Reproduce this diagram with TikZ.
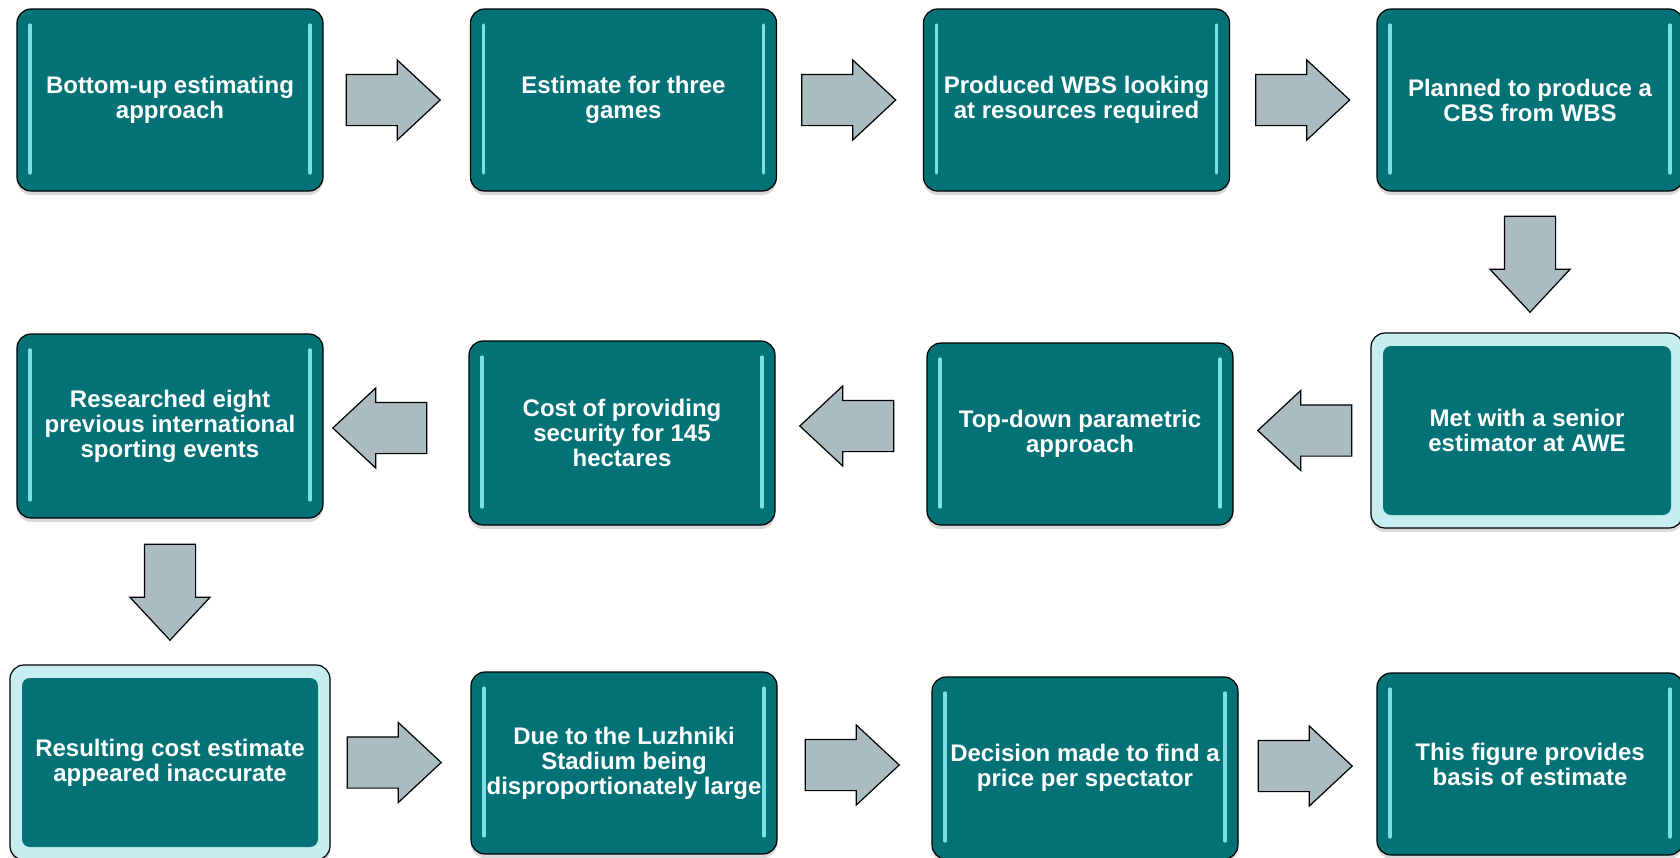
\documentclass[tikz,border=0pt]{standalone}
\usepackage{fontspec}
\setmainfont{Liberation Sans}
\usetikzlibrary{shapes.arrows,calc,shadows}
\definecolor{stepteal}{RGB}{3,114,119}
\definecolor{steprim}{RGB}{198,238,240}
\definecolor{stepgloss}{RGB}{125,222,230}
\definecolor{arrowgrey}{RGB}{170,188,191}
\tikzset{
  stepbox/.style={draw=black, line width=0.6pt, fill=stepteal, rounded corners=7pt,
    minimum width=153pt, minimum height=91pt, align=center, text=white, inner sep=2pt,
    font=\fontsize{12}{12.5}\selectfont\bfseries,
    drop shadow={shadow xshift=0pt, shadow yshift=-2pt, opacity=0.3},
    path picture={
      \draw[stepgloss, line width=1.6pt, line cap=round]
        ([xshift=6.5pt,yshift=-8pt]path picture bounding box.north west) --
        ([xshift=6.5pt,yshift=9pt]path picture bounding box.south west)
        ([xshift=-6.5pt,yshift=-8pt]path picture bounding box.north east) --
        ([xshift=-6.5pt,yshift=9pt]path picture bounding box.south east);
    }},
  rimbox/.style={stepbox, fill=steprim,
    path picture={
      \fill[stepteal, rounded corners=4pt]
        ([shift={(6pt,-6.5pt)}]path picture bounding box.north west) rectangle
        ([shift={(-6pt,6.5pt)}]path picture bounding box.south east);
    }},
  flow/.style={single arrow, draw=black, line width=0.6pt, fill=arrowgrey,
    minimum height=47pt, inner xsep=0pt, inner ysep=12.5pt, anchor=tail,
    single arrow head extend=7.25pt, single arrow tip angle=86},
  downflow/.style={flow, shape border rotate=270, minimum height=48pt,
    inner xsep=12.5pt, inner ysep=0pt}
}
\begin{document}
\begin{tikzpicture}[x=0.5pt,y=-0.5pt]
  \clip (0,0) rectangle (1680,857);
  % first row, left to right
  \node[stepbox] (b1) at (170,100) {Bottom-up estimating\\approach};
  \node[stepbox] (b2) at (623.5,100) {Estimate for three\\games};
  \node[stepbox] (b3) at (1076.5,100) {Produced WBS looking\\at resources required};
  \node[stepbox] (b4) at (1530,100) {Planned to produce a\\CBS from WBS};
  % second row, right to left
  \node[rimbox, minimum width=156pt, minimum height=97.5pt] (b8) at (1527,430.5) {Met with a senior\\estimator at AWE};
  \node[stepbox] (b7) at (1080,434) {Top-down parametric\\approach};
  \node[stepbox, minimum height=92pt] (b6) at (622,433) {Cost of providing\\security for 145\\hectares};
  \node[stepbox, minimum height=92pt] (b5) at (170,426) {Researched eight\\previous international\\sporting events};
  % third row, left to right
  \node[rimbox, minimum width=160pt, minimum height=97.5pt] (b9) at (170,762.5) {Resulting cost estimate\\appeared inaccurate};
  \node[stepbox] (b10) at (624,763) {Due to the Luzhniki\\Stadium being\\disproportionately large};
  \node[stepbox] (b11) at (1085,768) {Decision made to find a\\price per spectator};
  \node[stepbox] (b12) at (1530,764) {This figure provides\\basis of estimate};
  % block arrows between the steps
  \node[flow] (r1) at ([xshift=11pt]b1.east) {};
  \node[flow] (r2) at ([xshift=12pt]b2.east) {};
  \node[flow] (r3) at ([xshift=12.5pt]b3.east) {};
  \node[downflow] (d1) at ([yshift=-12pt]b4.south) {};
  \node[flow, shape border rotate=180] (l1) at ([xshift=-9pt]b8.west) {};
  \node[flow, shape border rotate=180] (l2) at ([xshift=-16pt,yshift=4pt]b7.west) {};
  \node[flow, shape border rotate=180] (l3) at ([xshift=-20.5pt,yshift=2.5pt]b6.west) {};
  \node[downflow] (d2) at ([yshift=-12.5pt]b5.south) {};
  \node[flow] (r4) at ([xshift=8pt]b9.east) {};
  \node[flow] (r5) at ([xshift=13.5pt,yshift=-1pt]b10.east) {};
  \node[flow] (r6) at ([xshift=9.5pt,yshift=1pt]b11.east) {};
\end{tikzpicture}
\end{document}
